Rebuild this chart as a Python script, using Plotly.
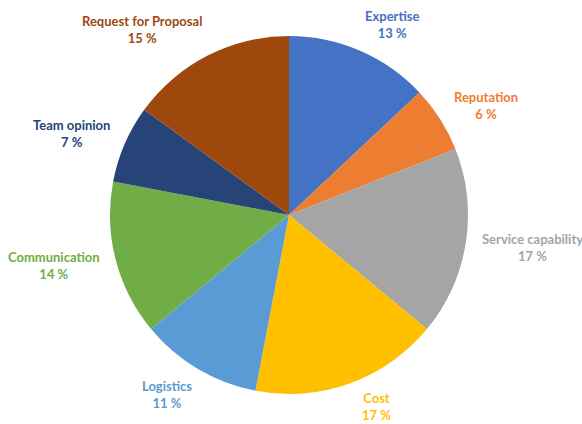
import math
import plotly.graph_objects as go

categories = ["Expertise", "Reputation", "Service capability", "Cost",
              "Logistics", "Communication", "Team opinion", "Request for Proposal"]
values = [13, 6, 17, 17, 11, 14, 7, 15]
colors = ["#4472C4", "#ED7D31", "#A5A5A5", "#FFC000",
          "#5B9BD5", "#70AD47", "#264478", "#9E480E"]

W, H = 582, 424
CX, CY, R = 289, 215, 179  # pixel geometry of the pie
SIDE_RX, SIDE_RY = 193, 205   # side-anchored label distances
CORNER_R = 187                # distance of corner-anchored labels
BOX_H = 36                    # approx. height of a two-line label
BOTTOM_LIMIT = H

fig = go.Figure(go.Pie(
    labels=categories, values=values, sort=False, direction="clockwise",
    rotation=0, marker=dict(colors=colors, line=dict(width=0)),
    textinfo="none", hoverinfo="label+percent", showlegend=False,
    domain=dict(x=[(CX - R) / W, (CX + R) / W],
                y=[(H - CY - R) / H, (H - CY + R) / H]),
))

total = sum(values)
cum = 0
annotations = []
for cat, v, col in zip(categories, values, colors):
    mid = (cum + v / 2) / total * 2 * math.pi
    cum += v
    s, c = math.sin(mid), math.cos(mid)
    xanchor = "left" if s > 0 else "right"
    if abs(c) < 0.7:
        yanchor = "middle"
        px = CX + SIDE_RX * s
        py = CY - SIDE_RY * c
    else:
        yanchor = "bottom" if c > 0 else "top"
        px = CX + CORNER_R * s
        py = CY - CORNER_R * c
        if yanchor == "top" and py + BOX_H > BOTTOM_LIMIT:
            py = BOTTOM_LIMIT - BOX_H
            dx = math.sqrt(max(CORNER_R ** 2 - (py - CY) ** 2, 0))
            px = CX + (dx if s > 0 else -dx)
    annotations.append(dict(
        x=px / W, y=1 - py / H, xref="paper", yref="paper",
        text=f"<b>{cat}</b><br><b>{round(v / total * 100)} %</b>",
        showarrow=False, xanchor=xanchor, yanchor=yanchor, align="center",
        font=dict(family="Lato", size=13, color=col),
    ))

fig.update_layout(
    width=W, height=H, margin=dict(l=0, r=0, t=0, b=0),
    paper_bgcolor="white", plot_bgcolor="white",
    annotations=annotations,
)

fig.write_html("out.html")
